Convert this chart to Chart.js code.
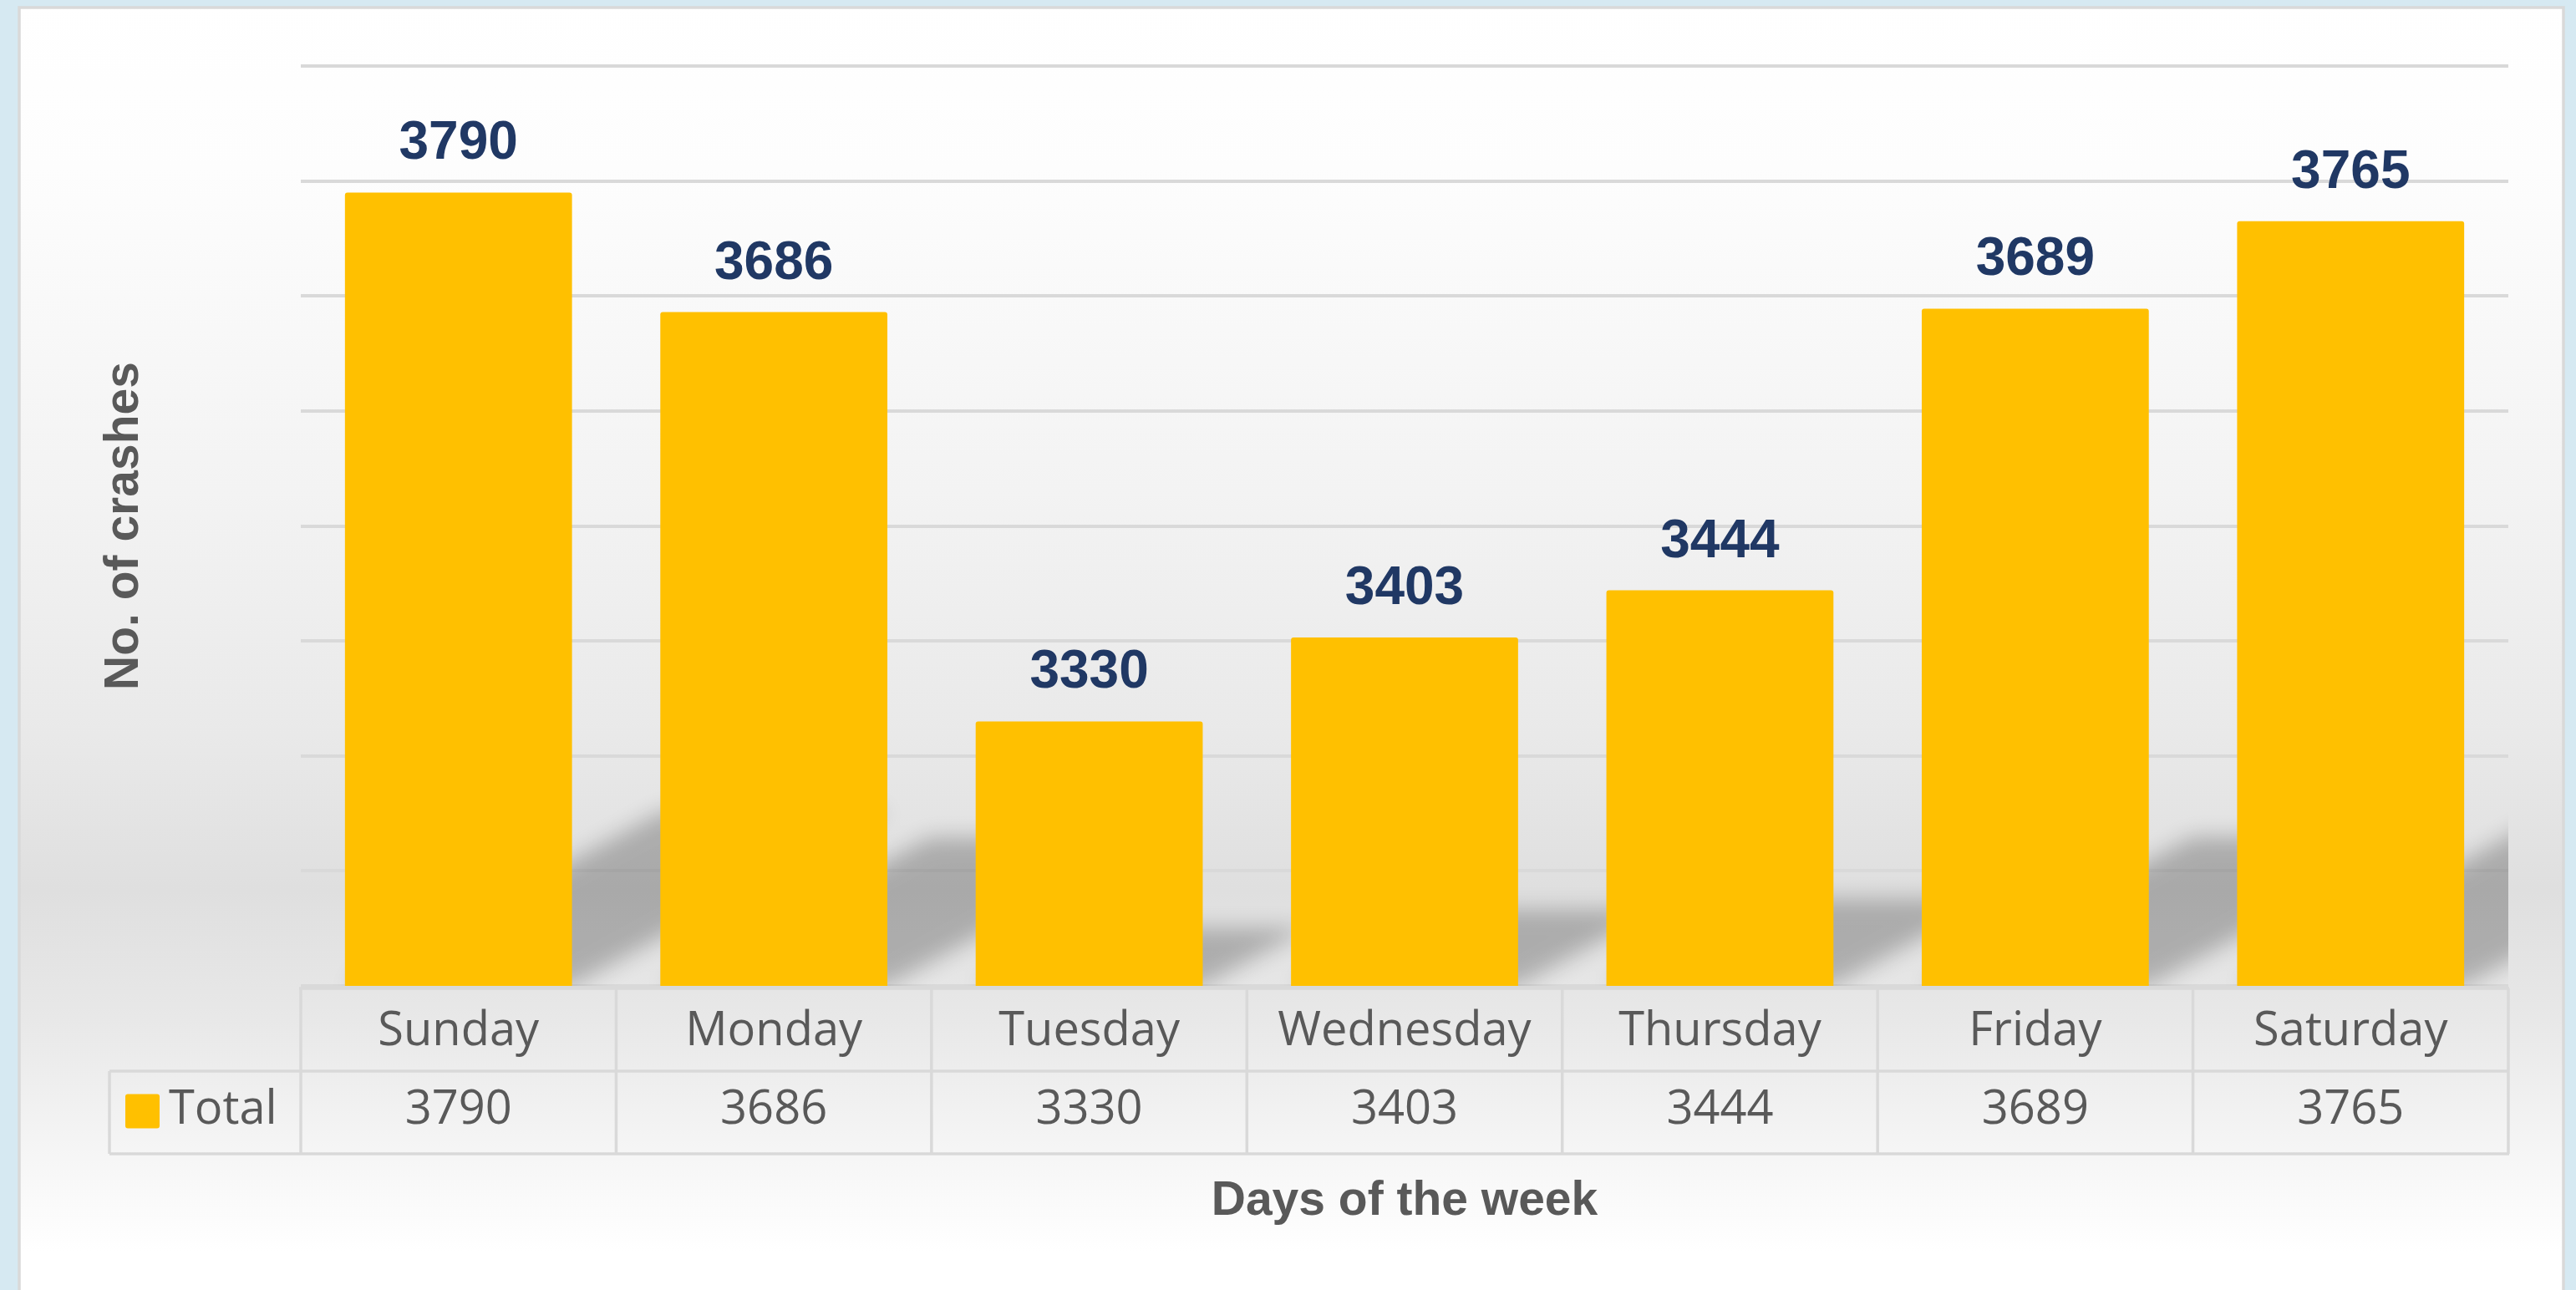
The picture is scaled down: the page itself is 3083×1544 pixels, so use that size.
<!DOCTYPE html>
<html>
<head>
<meta charset="utf-8">
<script src="https://cdn.jsdelivr.net/npm/chart.js@4/dist/chart.umd.min.js"></script>
<style>
  html, body { margin: 0; padding: 0; background: #d6e9f2; }
  canvas { display: block; }
</style>
</head>
<body>
<canvas id="c" width="3083" height="1544"></canvas>
<script>
// ---- data ----
const categories = ['Sunday', 'Monday', 'Tuesday', 'Wednesday', 'Thursday', 'Friday', 'Saturday'];
const totals = [3790, 3686, 3330, 3403, 3444, 3689, 3765];
const seriesName = 'Total';
const yTitle = 'No. of crashes';
const xTitle = 'Days of the week';
const yMin = 3100, yMax = 3900, yStep = 100;

const BAR = '#FFC000';
const GRID = '#d9d9d9';
const TEXT = '#595959';
const LABEL = '#203864';
const BAR_PCT = 0.72;

const panelPlugin = {
  id: 'panel',
  beforeDraw(chart) {
    const { ctx, width, height } = chart;
    ctx.save();
    ctx.fillStyle = '#d6e9f2';
    ctx.fillRect(0, 0, width, height);
    const g = ctx.createLinearGradient(0, 0, 0, height);
    g.addColorStop(0, '#ffffff');
    g.addColorStop(0.13, '#fdfdfd');
    g.addColorStop(0.38, '#f3f3f3');
    g.addColorStop(0.57, '#e9e9e9');
    g.addColorStop(0.69, '#dfdfdf');
    g.addColorStop(0.79, '#e8e8e8');
    g.addColorStop(0.89, '#f5f5f5');
    g.addColorStop(0.97, '#ffffff');
    ctx.fillStyle = g;
    ctx.fillRect(23, 8, 3045, height);
    ctx.strokeStyle = '#d9d9d9';
    ctx.lineWidth = 3.5;
    ctx.strokeRect(23, 9, 3045, height + 10);
    ctx.restore();
  }
};

const shadowPlugin = {
  id: 'barShadow',
  beforeDatasetsDraw(chart) {
    const { ctx, chartArea } = chart;
    const xs = chart.scales.x, ys = chart.scales.y;
    const OFF = 10000;
    const base = ys.getPixelForValue(yMin);
    const bw = (chartArea.right - chartArea.left) / categories.length * BAR_PCT;
    ctx.save();
    ctx.beginPath();
    ctx.rect(chartArea.left, chartArea.top, chartArea.right - chartArea.left, chartArea.bottom - chartArea.top);
    ctx.clip();
    ctx.shadowColor = 'rgba(0,0,0,0.24)';
    ctx.shadowBlur = 26;
    ctx.shadowOffsetX = OFF;
    ctx.shadowOffsetY = 0;
    ctx.fillStyle = '#000';
    ctx.beginPath();
    totals.forEach((v, i) => {
      const cx = xs.getPixelForValue(i);
      const top = ys.getPixelForValue(v);
      const h = base - top;
      const dy = 0.22 * h, dx = dy / 0.55;
      const L = cx - bw / 2 - OFF, R = cx + bw / 2 - OFF;
      ctx.moveTo(L, base);
      ctx.lineTo(R, base);
      ctx.lineTo(R + dx, base - dy);
      ctx.lineTo(L + dx, base - dy);
      ctx.closePath();
    });
    ctx.fill();
    ctx.restore();
  }
};

const labelPlugin = {
  id: 'valueLabels',
  afterDatasetsDraw(chart) {
    const { ctx } = chart;
    const xs = chart.scales.x, ys = chart.scales.y;
    ctx.save();
    ctx.font = 'bold 64px "Liberation Sans", Arial, sans-serif';
    ctx.fillStyle = LABEL;
    ctx.textAlign = 'center';
    ctx.textBaseline = 'alphabetic';
    totals.forEach((v, i) => {
      ctx.fillText(String(v), xs.getPixelForValue(i), ys.getPixelForValue(v) - 40);
    });
    ctx.restore();
  }
};

const tablePlugin = {
  id: 'dataTable',
  afterDraw(chart) {
    const { ctx, chartArea } = chart;
    const xs = chart.scales.x;
    const n = categories.length;
    const cw = (chartArea.right - chartArea.left) / n;
    const top = chartArea.bottom + 3;
    const mid = top + 99;
    const bot = mid + 99;
    const leftCol = 131;
    ctx.save();
    ctx.strokeStyle = GRID;
    ctx.lineWidth = 3.5;
    ctx.beginPath();
    ctx.moveTo(chartArea.left - 2, top); ctx.lineTo(chartArea.right + 1, top);
    ctx.moveTo(leftCol, mid); ctx.lineTo(chartArea.right + 1, mid);
    ctx.moveTo(leftCol, bot); ctx.lineTo(chartArea.right + 1, bot);
    for (let i = 0; i < n; i++) {
      const xl = xs.getPixelForValue(i) - cw / 2;
      ctx.moveTo(xl, top); ctx.lineTo(xl, bot);
    }
    ctx.moveTo(chartArea.right, top); ctx.lineTo(chartArea.right, bot);
    ctx.moveTo(leftCol, mid); ctx.lineTo(leftCol, bot);
    ctx.stroke();

    ctx.font = '56px "Open Sans", sans-serif';
    ctx.fillStyle = TEXT;
    ctx.textAlign = 'center';
    ctx.textBaseline = 'middle';
    const rowY = (mid + bot) / 2 - 2;
    totals.forEach((v, i) => {
      ctx.fillText(String(v), xs.getPixelForValue(i), rowY);
    });
    // legend key + series name
    ctx.fillStyle = BAR;
    ctx.beginPath();
    ctx.roundRect(150, rowY - 20, 41, 41, 3);
    ctx.fill();
    ctx.fillStyle = TEXT;
    ctx.textAlign = 'left';
    ctx.fillText(seriesName, 202, rowY);
    ctx.restore();
  }
};

new Chart(document.getElementById('c'), {
  type: 'bar',
  data: {
    labels: categories,
    datasets: [{
      label: seriesName,
      data: totals,
      backgroundColor: BAR,
      borderRadius: 3,
      borderSkipped: 'start',
      barPercentage: BAR_PCT,
      categoryPercentage: 1.0
    }]
  },
  options: {
    responsive: false,
    animation: false,
    devicePixelRatio: 1,
    layout: { padding: { left: 0, right: 81, top: 79, bottom: 0 } },
    plugins: {
      legend: { display: false },
      tooltip: { enabled: false }
    },
    scales: {
      y: {
        min: yMin, max: yMax,
        ticks: { display: false, stepSize: yStep },
        grid: { color: GRID, lineWidth: 4, drawTicks: false },
        border: { display: false },
        title: {
          display: true, text: yTitle, color: TEXT,
          font: { family: '"Liberation Sans", Arial, sans-serif', size: 57, weight: 'bold' },
          padding: { top: 115, bottom: 0 }
        },
        afterFit(s) { s.width = 360; }
      },
      x: {
        grid: { display: false },
        border: { display: false },
        ticks: {
          color: TEXT, padding: 13, maxRotation: 0, autoSkip: false,
          font: { family: '"Open Sans", sans-serif', size: 56 }
        },
        title: {
          display: true, text: xTitle, color: TEXT,
          font: { family: '"Liberation Sans", Arial, sans-serif', size: 57, weight: 'bold' },
          padding: { top: 0, bottom: 72 }
        },
        afterFit(s) { s.height = 1544 - 1180; }
      }
    }
  },
  plugins: [panelPlugin, shadowPlugin, labelPlugin, tablePlugin]
});
</script>
</body>
</html>
